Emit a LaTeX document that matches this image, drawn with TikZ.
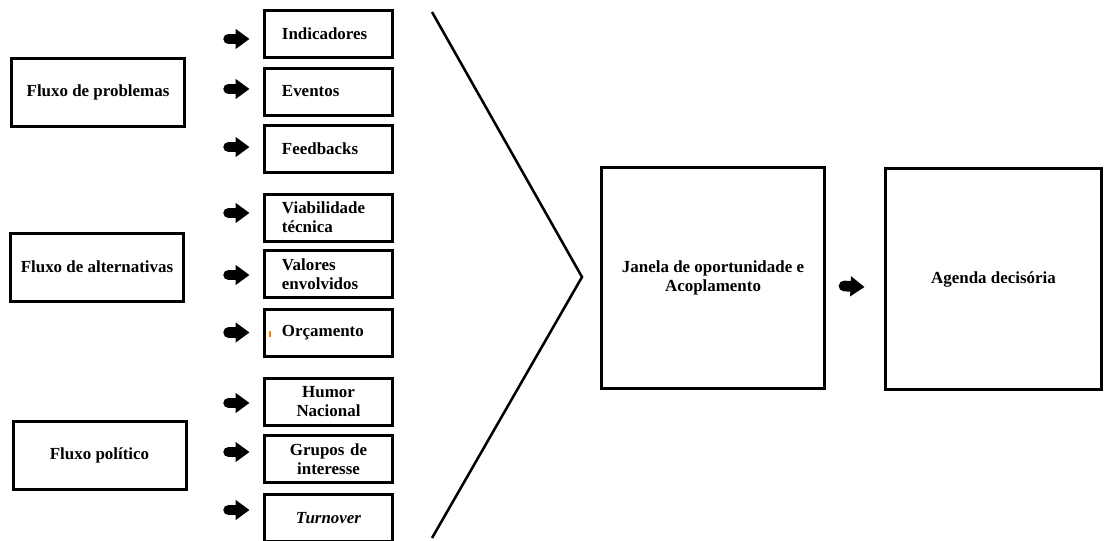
\documentclass[tikz,border=0pt]{standalone}
\usepackage{fontspec}
\setmainfont{Liberation Serif}
\usetikzlibrary{arrows.meta}
\tikzset{
  every node/.style={font=\fontsize{12.7}{14.3}\selectfont\bfseries},
  flowbox/.style={draw, line width=2.25pt, minimum width=129.75pt, minimum height=51pt, align=center},
  itembox/.style={draw, line width=2.25pt, minimum width=96pt, minimum height=35.25pt,
    inner xsep=13.1pt, inner ysep=0pt, text width=69.8pt, align=left},
  itemboxc/.style={itembox, align=center},
  bigbox/.style={draw, line width=2.25pt, minimum height=165.75pt, align=center},
  blockarrow/.style={line width=8pt, line cap=round, -{Triangle[length=10.5pt,width=14.5pt]}},
  chevron/.style={line width=1.9pt, line join=miter}
}
\begin{document}
\begin{tikzpicture}[x=0.75pt,y=-0.75pt]
\useasboundingbox (0,0) rectangle (1105,540);

% three streams
\node[flowbox] (prob) at (98,92.5) {Fluxo de problemas};
\node[flowbox] (alt)  at (97,267) {Fluxo de alternativas};
\node[flowbox] (pol)  at (99.5,455) {Fluxo político};

% components of each stream
\node[itembox] (ind)  at (328.5,33.5)  {Indicadores};
\node[itembox] (evt)  at (328.5,91.5)  {Eventos};
\node[itembox] (feed) at (328.5,148.5) {Feedbacks};
\node[itembox] (viab) at (328.5,217.5) {Viabilidade\\técnica};
\node[itembox] (val)  at (328.5,274)   {Valores\\envolvidos};
\node[itembox] (orc)  at (328.5,332.5) {Orçamento};
\node[itemboxc] (hum) at (328.5,401.5) {Humor\\Nacional};
\node[itemboxc] (grp) at (328.5,459)   {Grupos de\\interesse};
\node[itemboxc] (turn) at (328.5,518)  {\textit{Turnover}};

% block arrows in front of each component
\foreach \b/\dy in {ind/-4.1, evt/1.9, feed/1.1, viab/3.4, val/-0.75, orc/0, hum/-1.1, grp/5.25, turn/6}
  \draw[blockarrow] ([xshift=-25.8pt,yshift=\dy pt]\b.west) -- ([xshift=-10.1pt,yshift=\dy pt]\b.west);

% small orange mark inside the budget box
\draw[orange, line width=0.9pt] (270,331) -- (270,337);

% converging chevron
\draw[chevron] (432,12) -- (582,277) -- (432,538);

% coupling and decision agenda
\node[bigbox, minimum width=167.25pt] (jan) at (713,278) {Janela de oportunidade e\\Acoplamento};
\node[bigbox, minimum width=162pt] (age) at (993.5,279) {Agenda decisória};
\draw[blockarrow] ([xshift=13.5pt,yshift=-6pt]jan.east) -- ([xshift=-14.6pt,yshift=-6pt]age.west);
\end{tikzpicture}
\end{document}
